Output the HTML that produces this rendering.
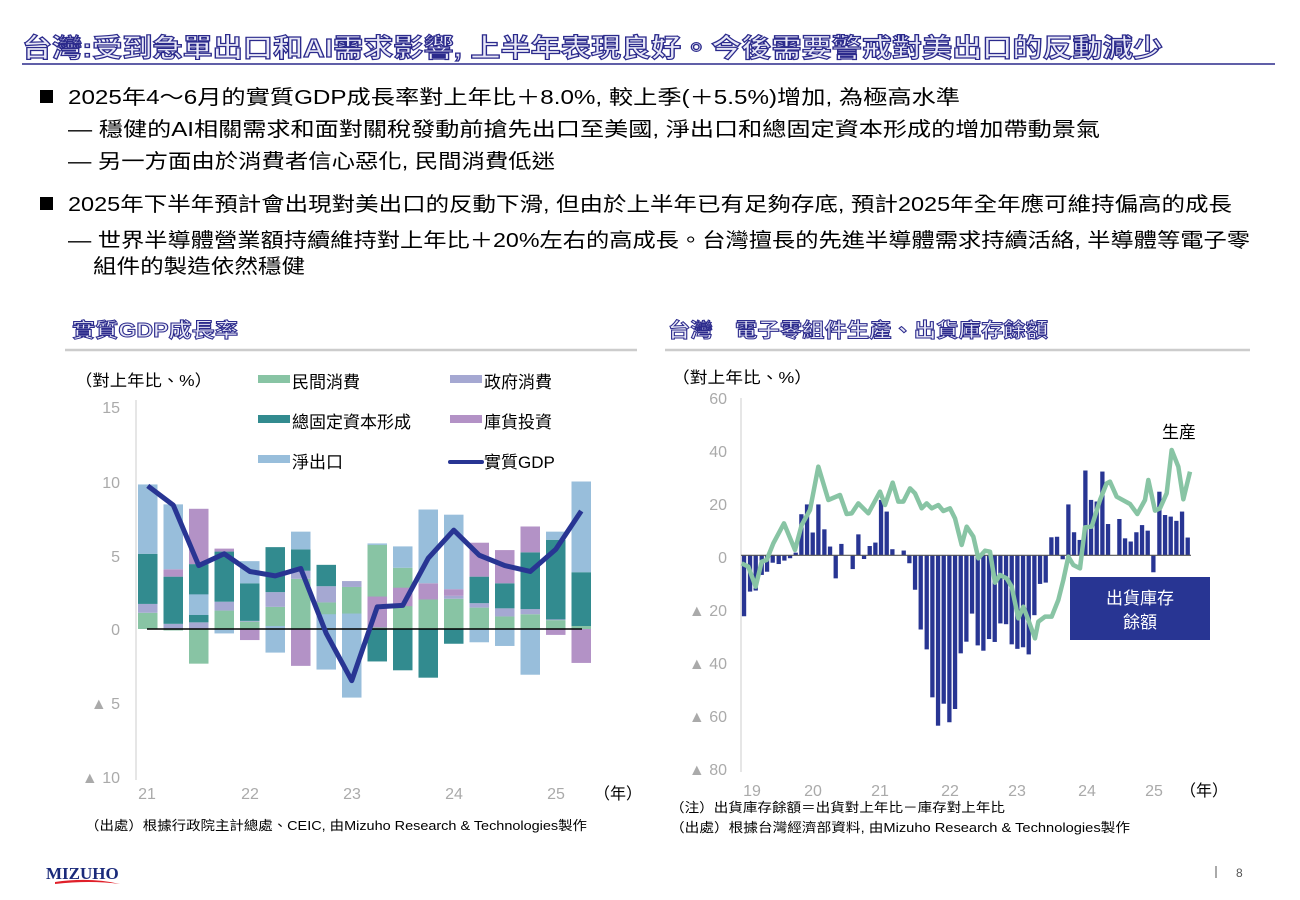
<!DOCTYPE html>
<html><head><meta charset="utf-8"><style>
body{margin:0;background:#fff;}
svg{display:block;font-family:"Liberation Sans","Noto Sans CJK TC",sans-serif;}
</style></head><body>
<svg id="s" width="1300" height="900" viewBox="0 0 1300 900" xmlns="http://www.w3.org/2000/svg">
<rect width="1300" height="900" fill="#fff"/>
<text x="22" y="57" font-size="26" font-weight="bold" fill="#e8e8f6" stroke="#2b2a8c" stroke-width="1.2" textLength="1141" lengthAdjust="spacingAndGlyphs">台灣:受到急單出口和AI需求影響, 上半年表現良好。今後需要警戒對美出口的反動減少</text>
<line x1="22" y1="64" x2="1275" y2="64" stroke="#2b2a8c" stroke-width="1.5"/>
<g font-size="20" fill="#000">
<rect x="40" y="90" width="13" height="13" fill="#000"/>
<text x="68" y="104" textLength="892" lengthAdjust="spacingAndGlyphs">2025年4～6月的實質GDP成長率對上年比＋8.0%, 較上季(＋5.5%)增加, 為極高水準</text>
<text x="68" y="136" textLength="1032" lengthAdjust="spacingAndGlyphs">— 穩健的AI相關需求和面對關稅發動前搶先出口至美國, 淨出口和總固定資本形成的增加帶動景氣</text>
<text x="68" y="168" textLength="487" lengthAdjust="spacingAndGlyphs">— 另一方面由於消費者信心惡化, 民間消費低迷</text>
<rect x="40" y="197" width="13" height="13" fill="#000"/>
<text x="68" y="211" textLength="1164" lengthAdjust="spacingAndGlyphs">2025年下半年預計會出現對美出口的反動下滑, 但由於上半年已有足夠存底, 預計2025年全年應可維持偏高的成長</text>
<text x="68" y="247" textLength="1182" lengthAdjust="spacingAndGlyphs">— 世界半導體營業額持續維持對上年比＋20%左右的高成長。台灣擅長的先進半導體需求持續活絡, 半導體等電子零</text>
<text x="93" y="273" textLength="212" lengthAdjust="spacingAndGlyphs">組件的製造依然穩健</text>
</g>
<text x="72" y="337" font-size="20" font-weight="bold" fill="#e8e8f6" stroke="#2b2a8c" stroke-width="1" textLength="166" lengthAdjust="spacingAndGlyphs">實質GDP成長率</text>
<line x1="65" y1="350" x2="637" y2="350" stroke="#ccc" stroke-width="2.5"/>
<text x="668" y="337" font-size="20" font-weight="bold" fill="#e8e8f6" stroke="#2b2a8c" stroke-width="1" textLength="380" lengthAdjust="spacingAndGlyphs">台灣　電子零組件生產、出貨庫存餘額</text>
<line x1="665" y1="350" x2="1250" y2="350" stroke="#ccc" stroke-width="2.5"/>
<text x="75" y="386" font-size="16" textLength="137" lengthAdjust="spacingAndGlyphs">（對上年比、%）</text>
<g font-size="17">
<rect x="258" y="375" width="32" height="8" fill="#88c4a4"/><text x="292" y="388">民間消費</text>
<rect x="450" y="375" width="32" height="8" fill="#a5a8d2"/><text x="484" y="388">政府消費</text>
<rect x="258" y="415" width="32" height="8" fill="#328b8f"/><text x="292" y="428">總固定資本形成</text>
<rect x="450" y="415" width="32" height="8" fill="#b392c6"/><text x="484" y="428">庫貨投資</text>
<rect x="258" y="455" width="32" height="8" fill="#98bedb"/><text x="292" y="468">淨出口</text>
<line x1="450" y1="462" x2="482" y2="462" stroke="#283593" stroke-width="4" stroke-linecap="round"/><text x="484" y="468">實質GDP</text>
</g>
<line x1="136" y1="400" x2="136" y2="780" stroke="#ddd" stroke-width="1.5"/>
<g font-size="16" fill="#aaa" text-anchor="end">
<text x="120" y="413">15</text><text x="120" y="488">10</text><text x="120" y="562">5</text><text x="120" y="635">0</text><text x="120" y="709">▲ 5</text><text x="120" y="783">▲ 10</text>
</g>
<g id="lb"></g>
<g font-size="16" fill="#aaa" text-anchor="middle">
<text x="147" y="799">21</text><text x="250" y="799">22</text><text x="352" y="799">23</text><text x="454" y="799">24</text><text x="556" y="799">25</text>
</g>
<text x="594" y="799" font-size="16" fill="#000">（年）</text>
<text x="85" y="830" font-size="13" textLength="502" lengthAdjust="spacingAndGlyphs">（出處）根據行政院主計總處、CEIC, 由Mizuho Research &amp; Technologies製作</text>

<text x="672" y="383" font-size="16" textLength="140" lengthAdjust="spacingAndGlyphs">（對上年比、%）</text>
<line x1="741" y1="398" x2="741" y2="772" stroke="#ddd" stroke-width="1.5"/>
<g font-size="16" fill="#aaa" text-anchor="end">
<text x="727" y="404">60</text><text x="727" y="457">40</text><text x="727" y="510">20</text><text x="727" y="563">0</text><text x="727" y="616">▲ 20</text><text x="727" y="669">▲ 40</text><text x="727" y="722">▲ 60</text><text x="727" y="775">▲ 80</text>
</g>
<g id="rb"></g>
<g font-size="16" fill="#aaa" text-anchor="middle">
<text x="752" y="796">19</text><text x="813" y="796">20</text><text x="880" y="796">21</text><text x="950" y="796">22</text><text x="1017" y="796">23</text><text x="1087" y="796">24</text><text x="1154" y="796">25</text>
</g>
<text x="1180" y="796" font-size="16" fill="#000">（年）</text>
<text x="1162" y="438" font-size="17">生産</text>
<rect x="1070" y="577" width="140" height="63" fill="#283593"/>
<text x="1140" y="604" font-size="17" fill="#fff" text-anchor="middle">出貨庫存</text>
<text x="1140" y="628" font-size="17" fill="#fff" text-anchor="middle">餘額</text>
<text x="670" y="812" font-size="13" textLength="335" lengthAdjust="spacingAndGlyphs">（注）出貨庫存餘額＝出貨對上年比－庫存對上年比</text>
<text x="670" y="832" font-size="13" textLength="460" lengthAdjust="spacingAndGlyphs">（出處）根據台灣經濟部資料, 由Mizuho Research &amp; Technologies製作</text>

<text x="46" y="879" font-size="17" font-weight="bold" fill="#1a2a7a" font-family="Liberation Serif,serif">MIZUHO</text>
<path d="M55 882 Q90 877 120 884 Q90 880 55 884Z" fill="#e0202a"/>
<line x1="1216" y1="866" x2="1216" y2="878" stroke="#555"/>
<text x="1236" y="877" font-size="12" fill="#555">8</text>
</svg>
<script>
var NS="http://www.w3.org/2000/svg";
function el(p,t,a){var e=document.createElementNS(NS,t);for(var k in a)e.setAttribute(k,a[k]);p.appendChild(e);return e;}
var lb=document.getElementById('lb');
var cols=['#88c4a4','#a5a8d2','#328b8f','#b392c6','#98bedb'];
var D=[[1.1,0.6,3.4,0,4.7],[-0.1,0.35,3.2,0.5,4.4],[-2.35,0.45,3.95,3.75,-1.4],[1.25,0.6,3.4,0.2,-0.3],[0.5,0.05,2.55,-0.75,1.5],
[1.5,1.0,3.05,-0.2,-1.8],[3.4,0.55,1.45,-2.5,1.2],[1.8,1.1,1.45,-1.0,-3.75],[2.85,0.4,-0.5,-0.55,-5.7],[5.7,0,-2.2,-2.1,0.1],
[4.15,0,-2.8,-1.25,1.45],[2.0,0,-3.3,1.1,5.0],[2.05,0.2,-1.0,0.45,5.05],[1.45,0.3,1.8,2.3,-0.9],[0.85,0.55,1.7,2.25,-1.15],
[1.0,0.35,3.85,1.75,-3.1],[0.6,0.05,5.4,-0.4,0.55],[0.2,0,3.65,-2.3,6.15]];
var G=[9.7,8.4,4.3,5.1,3.9,3.6,4.1,-0.3,-3.5,1.5,1.6,4.8,6.7,5.0,4.3,3.9,5.4,8.0];
var z=629,u=14.75,pts=[];
D.forEach(function(b,i){var x=138+i*25.5,p=0,n=0;
b.forEach(function(v,j){if(v>=0){el(lb,'rect',{x:x,y:z-(p+v)*u,width:19.5,height:v*u,fill:cols[j]});p+=v;}
else{el(lb,'rect',{x:x,y:z-n*u,width:19.5,height:-v*u,fill:cols[j]});n-=v;}});
pts.push((x+9.75)+','+(z-G[i]*u));});
el(lb,'line',{x1:147,y1:z,x2:582,y2:z,stroke:'#000','stroke-width':1.5});
el(lb,'polyline',{points:pts.join(' '),fill:'none',stroke:'#283593','stroke-width':5,'stroke-linejoin':'round'});
var rb=document.getElementById('rb');
var B=[[42,-23],[60,-13.7],[77,-13.3],[95,-7.4],[111,-6.2],[128,-2.8],[146,-3.3],[163,-2],[180,-1.1],[197,1],[214,15.5],[231,19.2],
[248,8.6],[265,19.2],[283,9.8],[300,3.3],[317,-8.7],[334,4.3],[368,-5.2],[385,7.9],[402,-1.4],[419,3.5],[436,4.8],
[453,20.9],[470,16.5],[487,2.3],[521,1.8],[538,-3],[555,-13],[572,-28],[590,-35.5],[607,-53.6],[624,-64.3],[641,-56],
[658,-63],[675,-58],[692,-37],[709,-32.6],[726,-22],[743,-34],[760,-36],[777,-31.6],[794,-32.7],[811,-25.7],[828,-26],[845,-33.6],
[862,-35.3],[879,-34.7],[896,-37.4],[913,-22.6],[930,-10.8],[947,-10.3],[964,6.8],[981,7],[998,-1.5],[1015,19.2],[1032,8.7],[1049,5.8],
[1066,32],[1083,20.9],[1100,20.3],[1117,31.6],[1134,11.8],[1168,13.7],[1185,6.4],[1202,5.2],[1219,8.7],[1236,11.4],[1253,9.3],
[1270,-6.4],[1288,24],[1305,15.2],[1322,14.6],[1339,13],[1356,16.5],[1373,6.7]];
var rz=555.3,ru=2.65;
B.forEach(function(b){var x=730+b[0]/3-2.1,v=b[1];el(rb,'rect',{x:x,y:v>=0?rz-v*ru:rz,width:4.3,height:Math.abs(v)*ru,fill:'#283593'});});
el(rb,'line',{x1:741,y1:rz,x2:1191,y2:rz,stroke:'#555','stroke-width':1.2});
var L=[[35,370],[55,380],[77,440],[95,365],[110,360],[130,310],[162,250],[195,330],[215,255],[240,210],[265,80],[295,180],[330,165],[350,222],[365,220],[385,190],[415,220],[450,155],[465,195],[488,128],[505,185],[520,185],[540,145],[555,160],[575,205],[590,190],[605,205],[625,195],[640,213],[660,205],[675,235],[695,315],[710,260],[730,290],[745,355],[765,332],[780,335],[795,428],[810,405],[830,415],[845,440],[865,535],[880,500],[895,540],[915,595],[925,545],[945,530],[965,530],[985,480],[1000,420],[1015,350],[1030,375],[1050,385],[1065,262],[1085,260],[1110,180],[1130,130],[1140,125],[1160,170],[1200,192],[1222,222],[1245,180],[1255,120],[1275,212],[1290,205],[1310,160],[1325,30],[1345,80],[1360,178],[1380,95]];
el(rb,'polyline',{points:L.map(function(p){return (730+p[0]/3)+','+(440+p[1]/3);}).join(' '),fill:'none',stroke:'#88c4a4','stroke-width':4.5,'stroke-linejoin':'round'});
</script>
</body></html>
